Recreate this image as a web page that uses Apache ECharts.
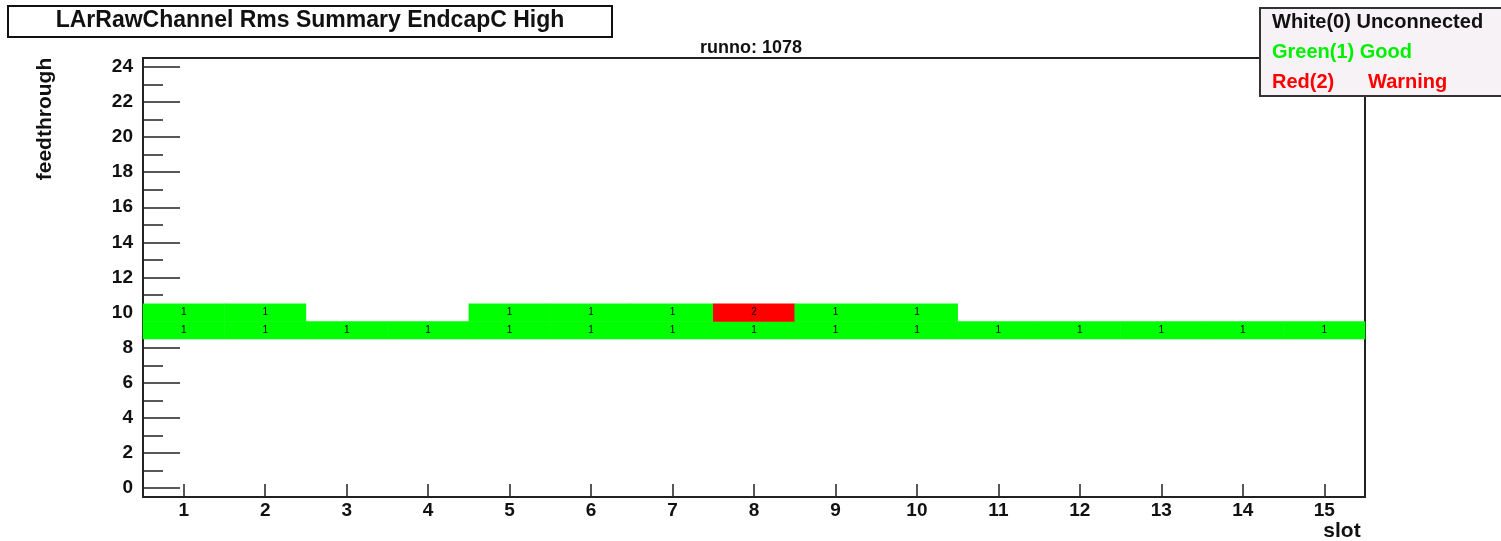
<!DOCTYPE html>
<html>
<head>
<meta charset="utf-8">
<script src="https://cdn.jsdelivr.net/npm/echarts@6/dist/echarts.min.js"></script>
<style>
  html, body { margin: 0; padding: 0; background: #fff; }
  #main { width: 1501px; height: 541px; }
</style>
</head>
<body>
<div id="main"></div>
<script>
// slots on x, feedthroughs on y
const slots = ['1','2','3','4','5','6','7','8','9','10','11','12','13','14','15']
const feedthroughs = ['0','1','2','3','4','5','6','7','8','9','10','11','12','13','14','15','16','17','18','19','20','21','22','23','24']
// status per slot, 0 = unconnected, 1 = good, 2 = warning
const row9 = [1,1,1,1,1,1,1,1,1,1,1,1,1,1,1]
const row10 = [1,1,0,0,1,1,1,2,1,1,0,0,0,0,0]

function buildData(){
  let data = []
  row9.forEach((v,i)=>{ if(v) data.push([i, 9, v]) })
  row10.forEach((v,i)=>{ if(v) data.push([i, 10, v]) })
  return data
}

const font = 'Liberation Sans, Arial, sans-serif'
const axisColor = '#222'

function start(){
  var myChart = echarts.init(document.getElementById('main'))
  var option = {
    backgroundColor: '#fff',
    animation: false,
    grid: {
      left: 143, right: 136, top: 58, bottom: 44,
      show: true, borderColor: axisColor, borderWidth: 2, backgroundColor: 'transparent'
    },
    xAxis: {
      type: 'category',
      data: slots,
      boundaryGap: true,
      axisLine: { lineStyle: { color: axisColor, width: 2 } },
      axisTick: { show: true, inside: true, alignWithLabel: true, interval: 0, length: 13, lineStyle: { color: axisColor, width: 1.5 } },
      axisLabel: { margin: 4, color: '#111', fontFamily: font, fontWeight: 'bold', fontSize: 19, interval: 0 },
      splitLine: { show: false }
    },
    yAxis: [
      {
        type: 'category',
        data: feedthroughs,
        boundaryGap: true,
        axisLine: { lineStyle: { color: axisColor, width: 2 } },
        axisTick: { show: true, inside: true, alignWithLabel: true, interval: 0, length: 20, lineStyle: { color: axisColor, width: 1.5 } },
        axisLabel: {
          margin: 10, color: '#111', fontFamily: font, fontWeight: 'bold', fontSize: 19,
          interval: function(i){ return i % 2 === 0 }
        },
        splitLine: { show: false }
      },
      {
        // longer ticks on the even feedthroughs
        type: 'category',
        data: feedthroughs,
        position: 'left',
        boundaryGap: true,
        axisLine: { show: false },
        axisTick: { show: true, inside: true, alignWithLabel: true, length: 37,
          interval: function(i){ return i % 2 === 0 },
          lineStyle: { color: axisColor, width: 1.5 } },
        axisLabel: { show: false },
        splitLine: { show: false }
      }
    ],
    visualMap: {
      show: false,
      type: 'piecewise',
      dimension: 2,
      pieces: [
        { value: 1, color: '#00ff00' },
        { value: 2, color: '#ff0000' }
      ]
    },
    series: [
      {
        type: 'heatmap',
        data: buildData(),
        label: { show: true, color: '#000', fontFamily: font, fontSize: 10 },
        itemStyle: { borderWidth: 0 },
        emphasis: { disabled: true }
      }
    ],
    graphic: [
      {
        type: 'rect', z: 100,
        shape: { x: 8, y: 6, width: 604, height: 31 },
        style: { fill: '#fff', stroke: '#111', lineWidth: 2 }
      },
      {
        type: 'text', z: 101, x: 310, y: 21,
        style: { text: 'LArRawChannel Rms Summary EndcapC High', fill: '#111', font: 'bold 23px ' + font, align: 'center', verticalAlign: 'middle' }
      },
      {
        type: 'text', z: 101, x: 751, y: 48,
        style: { text: 'runno: 1078', fill: '#111', font: 'bold 18px ' + font, align: 'center', verticalAlign: 'middle' }
      },
      {
        type: 'rect', z: 100,
        shape: { x: 1260, y: 8, width: 260, height: 88 },
        style: { fill: '#f7f2f5', stroke: '#333', lineWidth: 2 }
      },
      {
        type: 'text', z: 101, x: 1272, y: 22,
        style: { text: 'White(0) Unconnected', fill: '#111', font: 'bold 20px ' + font, verticalAlign: 'middle' }
      },
      {
        type: 'text', z: 101, x: 1272, y: 52,
        style: { text: 'Green(1) Good', fill: '#00f000', font: 'bold 20px ' + font, verticalAlign: 'middle' }
      },
      {
        type: 'text', z: 101, x: 1272, y: 82,
        style: { text: 'Red(2)', fill: '#ff0000', font: 'bold 20px ' + font, verticalAlign: 'middle' }
      },
      {
        type: 'text', z: 101, x: 1368, y: 82,
        style: { text: 'Warning', fill: '#ff0000', font: 'bold 20px ' + font, verticalAlign: 'middle' }
      },
      {
        type: 'text', z: 101, x: 1342, y: 531,
        style: { text: 'slot', fill: '#111', font: 'bold 21px ' + font, align: 'center', verticalAlign: 'middle' }
      },
      {
        type: 'text', z: 101, x: 45, y: 119, rotation: Math.PI / 2,
        style: { text: 'feedthrough', fill: '#111', font: 'bold 21px ' + font, align: 'center', verticalAlign: 'middle' }
      }
    ]
  }
  myChart.setOption(option)
}
window.addEventListener('load', start, false)
</script>
</body>
</html>
